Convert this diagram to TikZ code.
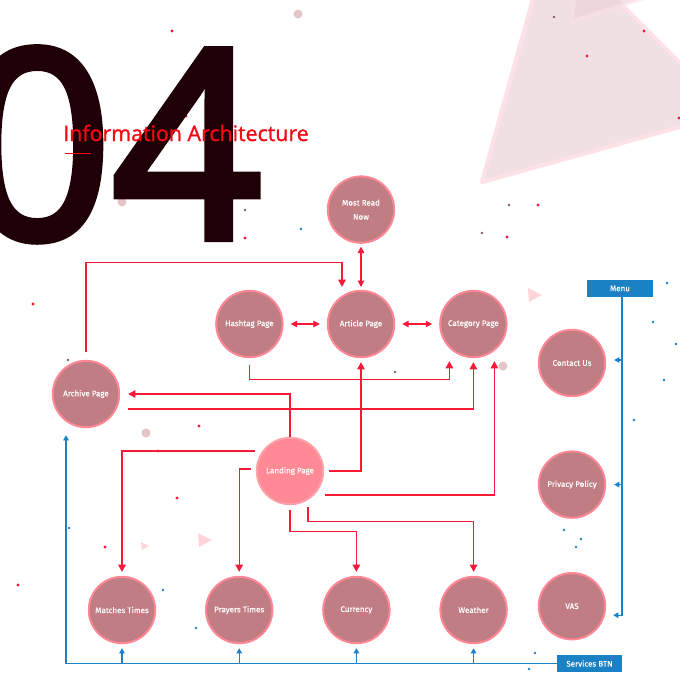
\documentclass[tikz,border=0pt]{standalone}
\usepackage{fontspec}
\setmainfont{Fira Sans}
\setsansfont[FakeBold=0.5]{Fira Sans}
\newfontfamily\headfont[FakeBold=3.2]{Open Sans}
\newfontfamily\titlefont[FakeBold=1.2]{Open Sans}
\usetikzlibrary{arrows.meta,positioning,calc}

\definecolor{nodefill}{RGB}{192,126,132}
\definecolor{nodering}{RGB}{255,134,148}
\definecolor{landfill}{RGB}{255,137,148}
\definecolor{linkred}{RGB}{248,24,56}
\definecolor{menublue}{RGB}{26,130,196}
\definecolor{bignum}{RGB}{30,0,6}
\definecolor{titlered}{RGB}{245,8,20}
\definecolor{trifill}{RGB}{240,224,228}
\definecolor{triedge}{RGB}{252,226,231}

\begin{document}
\begin{tikzpicture}[
  x=0.025cm, y=-0.025cm,
  font=\sffamily\fontsize{5.7}{10}\selectfont,
  page/.style={circle, draw=nodering, line width=1.4pt, fill=nodefill, text=white, minimum size=1.66cm, inner sep=0pt, align=center},
  landing/.style={page, fill=landfill, draw=landfill!80!white},
  tab/.style={fill=menublue, text=white, minimum width=1.63cm, minimum height=0.42cm, inner sep=0pt},
  rarrow/.style={-{Triangle[length=1.8mm,width=1.9mm]}, linkred, line width=0.85pt},
  rboth/.style={{Triangle[length=1.6mm,width=1.6mm]}-{Triangle[length=1.6mm,width=1.6mm]}, linkred, line width=0.85pt},
  barrow/.style={-{Triangle[length=1.3mm,width=1.4mm]}, menublue, line width=0.75pt},
]
\useasboundingbox (0,0) rectangle (680,680);
\clip (0,0) rectangle (680,680);

% -- Background --
\fill[trifill, draw=triedge, line width=3pt, line join=round] (482,182) -- (551,-66) -- (730,113) -- cycle;
\fill[trifill!85!nodefill, draw=triedge, line width=3pt, line join=round, opacity=0.6] (572,21) -- (577,-20) -- (700,-20) -- cycle;
\foreach \tx/\ty/\ts in {535/295/7, 205/540/7, 145/546/4}
  \fill[nodering!35] (\tx-\ts,\ty-\ts) -- (\tx+\ts,\ty) -- (\tx-\ts+1,\ty+\ts) -- cycle;
\foreach \dx/\dy in {298/14, 85/202, 122/202, 146/433, 503/366, 452/630}
  \fill[nodefill, opacity=0.45] (\dx,\dy) circle (4.5);
\foreach \dx/\dy in {172/31, 186/116, 245/238, 587/56, 644/31, 507/237, 538/205, 33/304, 199/426, 158/451, 18/585, 105/547, 177/498, 679/118}
  \fill[linkred] (\dx,\dy) circle (1.6);
\foreach \dx/\dy in {554/17, 509/205, 482/233, 100/168, 245/210, 183/188, 68/360, 467/350, 395/372}
  \fill[nodefill!70!black] (\dx,\dy) circle (1.3);
\foreach \dx/\dy in {301/229, 69/528, 163/590, 196/628, 667/283, 653/322, 676/344, 664/380, 634/420, 564/530, 581/539, 576/547, 535/653, 529/669}
  \fill[menublue] (\dx,\dy) circle (1.4);

% -- Heading --
\node[anchor=base east, inner sep=0pt, text=bignum, font=\headfont\fontsize{186}{186}\selectfont] (bigno) at (262,238) {04};
\node[anchor=base west, inner sep=0pt, text=titlered, font=\titlefont\fontsize{15.2}{16}\selectfont] (title) at (63,141) {Information Architecture};
\draw[titlered, line width=0.6pt] ($(title.base west)+(2,12)$) -- ($(title.base west)+(28,12)$);

% -- Pages --
\node[page] (article) at (361,324) {Article Page};
\node[page, above=1.15cm of article] (mostread) {Most Read\\Now};
\node[page, left=1.08cm of article] (hashtag) {Hashtag Page};
\node[page, right=1.1cm of article] (category) {Category Page};
\node[page] (archive) at (86,394) {Archive Page};
\node[landing] (landing) at (290,471) {Landing Page};

\node[page] (matches) at (122,610) {Matches Times};
\node[page, right=1.22cm of matches] (prayers) {Prayers Times};
\node[page, right=1.22cm of prayers] (currency) {Currency};
\node[page, right=1.22cm of currency] (weather) {Weather};

\node[page] (contact) at (572,363) {Contact Us};
\node[page, below=1.33cm of contact] (privacy) {Privacy Policy};
\node[page, below=1.33cm of privacy] (vas) {VAS};

\node[tab] (menu) at (620,288.5) {Menu};
\node[tab] (services) at (589.5,663.5) {Services BTN};

% -- Red links --
\draw[rboth, shorten <=2pt, shorten >=2pt] (mostread) -- (article);
\draw[rboth, shorten <=5pt, shorten >=5pt] (hashtag) -- (article);
\draw[rboth, shorten <=5pt, shorten >=5pt] (article) -- (category);

\draw[rarrow] ($(archive.north)+(0,-8)$) |- ($(article.north)+(-19,-27)$) -- ($(article.north)+(-19,-3)$);
\draw[rarrow] ($(hashtag.south)+(0,7)$) |- ($(category.south)+(-24,21.5)$) -- ($(category.south)+(-24,3)$);
\draw[rarrow] ($(archive.east)+(8,15)$) -| ($(category.south)+(0,4)$);
\draw[rarrow] (landing.north) |- ($(archive.east)+(8,0)$);
\draw[rarrow] ($(landing.east)+(5,0)$) -| ($(article.south)+(0,4)$);
\draw[rarrow] ($(landing.east)+(1,24)$) -| ($(category.south)+(21,3)$);

\draw[rarrow] ($(landing.west)+(-1,-20)$) -| ($(matches.north)+(0,-4)$);
\draw[rarrow] ($(landing.west)+(-5,-2)$) -| ($(prayers.north)+(0,-4)$);
\draw[rarrow] ($(landing.south)+(0,5)$) |- ($(currency.north)+(0,-44)$) -- ($(currency.north)+(0,-4)$);
\draw[rarrow] ($(landing.south)+(18,2)$) |- ($(weather.north)+(0,-54)$) -- ($(weather.north)+(0,-4)$);

% -- Blue links --
\draw[barrow] ($(menu.south)+(2,0)$) |- ($(vas.east)+(7,9)$);
\draw[barrow] ($(menu.south |- contact.east)+(2,-3)$) -- ($(contact.east)+(8,-3)$);
\draw[barrow] ($(menu.south |- privacy.east)+(2,0)$) -- ($(privacy.east)+(8,0)$);

\draw[barrow] (services.west) -| ($(archive.south)+(-20,7)$);
\foreach \target in {matches, prayers, currency, weather}
  \draw[barrow] (services.west -| \target) -- ($(\target.south)+(0,4)$);

\end{tikzpicture}
\end{document}
